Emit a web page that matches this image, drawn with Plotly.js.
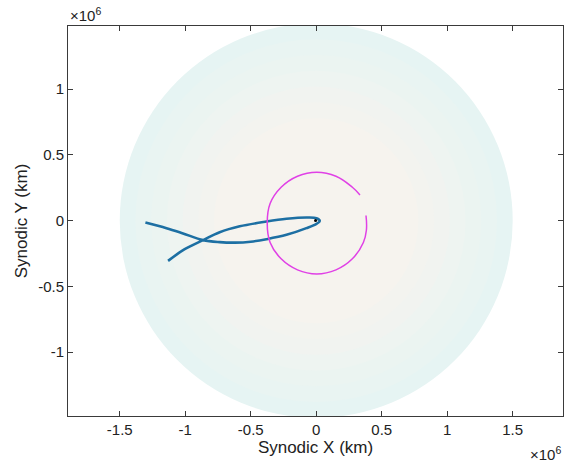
<!DOCTYPE html>
<html>
<head>
<meta charset="utf-8">
<script src="https://cdn.plot.ly/plotly-3.0.1.min.js"></script>
<style>html,body{margin:0;padding:0;background:#fff;}#chart{width:575px;height:462px;}</style>
</head>
<body>
<div id="chart"></div>
<script>
// Data (km)
const sphereRadius = 1.5e6;
const trajX = [-1.131e6, -1.004e6, -0.864e6, -0.737e6, -0.584e6, -0.380e6, -0.227e6, -0.075e6, 0.002e6, 0.027e6, 0.002e6, -0.075e6, -0.227e6, -0.380e6, -0.500e6, -0.620e6, -0.737e6, -0.864e6, -1.017e6, -1.143e6, -1.304e6];
const trajY = [-0.306e6, -0.217e6, -0.148e6, -0.088e6, -0.043e6, -0.007e6, 0.014e6, 0.024e6, 0.019e6, -0.002e6, -0.024e6, -0.057e6, -0.108e6, -0.141e6, -0.160e6, -0.167e6, -0.163e6, -0.148e6, -0.097e6, -0.057e6, -0.014e6];
const moonX = [0.334e6, 0.276e6, 0.151e6, 0.004e6, -0.143e6, -0.268e6, -0.352e6, -0.374e6, -0.352e6, -0.268e6, -0.143e6, 0.004e6, 0.151e6, 0.276e6, 0.360e6, 0.383e6, 0.380e6];
const moonY = [0.196e6, 0.254e6, 0.338e6, 0.369e6, 0.338e6, 0.254e6, 0.130e6, -0.018e6, -0.166e6, -0.290e6, -0.374e6, -0.405e6, -0.374e6, -0.290e6, -0.166e6, -0.072e6, 0.039e6];
const originX = [-0.005e6];
const originY = [0.002e6];
const xTicks = [-1.5e6, -1e6, -0.5e6, 0, 0.5e6, 1e6, 1.5e6];
const xTickText = ['-1.5', '-1', '-0.5', '0', '0.5', '1', '1.5'];
const yTicks = [-1e6, -0.5e6, 0, 0.5e6, 1e6];
const yTickText = ['-1', '-0.5', '0', '0.5', '1'];

// sphere shading: concentric fills from edge colour to centre colour
const ringFracs = [1.0, 0.92, 0.84, 0.76, 0.68, 0.6, 0.52];
const edgeCol = [230, 244, 243], centerCol = [246, 243, 238];
const shapes = ringFracs.map((f, i) => {
  const t = i / (ringFracs.length - 1);
  const c = edgeCol.map((v, k) => Math.round(v + (centerCol[k] - v) * t));
  const r = sphereRadius * f;
  return {type: 'circle', xref: 'x', yref: 'y', x0: -r, x1: r, y0: -r, y1: r,
          fillcolor: 'rgb(' + c.join(',') + ')', line: {width: 0}, layer: 'below'};
});

const traces = [
  {x: trajX, y: trajY, mode: 'lines', line: {color: '#1d6fa3', width: 2.6, shape: 'spline', smoothing: 1.0}, hoverinfo: 'skip'},
  {x: moonX, y: moonY, mode: 'lines', line: {color: '#e040e6', width: 1.5, shape: 'spline', smoothing: 1.2}, hoverinfo: 'skip'},
  {x: originX, y: originY, mode: 'markers', marker: {color: '#000', size: 3}, hoverinfo: 'skip'}
];

const axisCommon = {
  showgrid: false, zeroline: false, showline: true, linecolor: '#3a3a3a', linewidth: 1,
  mirror: 'ticks', ticks: 'inside', ticklen: 5, tickcolor: '#3a3a3a',
  tickfont: {family: 'Liberation Sans, Arial, sans-serif', size: 15, color: '#222'}
};

const layout = {
  width: 575, height: 462,
  margin: {l: 68, r: 12, t: 26, b: 46},
  paper_bgcolor: '#fff', plot_bgcolor: '#fff',
  showlegend: false,
  shapes: shapes,
  xaxis: Object.assign({}, axisCommon, {range: [-1.895e6, 1.884e6], tickvals: xTicks, ticktext: xTickText,
    title: {text: 'Synodic X (km)', font: {family: 'Liberation Sans, Arial, sans-serif', size: 17, color: '#222'}, standoff: 1}}),
  yaxis: Object.assign({}, axisCommon, {range: [-1.486e6, 1.481e6], tickvals: yTicks, ticktext: yTickText,
    title: {text: 'Synodic Y (km)', font: {family: 'Liberation Sans, Arial, sans-serif', size: 17, color: '#222'}, standoff: 6}}),
  annotations: [
    {xref: 'paper', yref: 'paper', x: 0, y: 1, xanchor: 'left', yanchor: 'bottom', showarrow: false,
     text: '×10<sup>6</sup>', font: {family: 'Liberation Sans, Arial, sans-serif', size: 15, color: '#222'}},
    {xref: 'paper', yref: 'paper', x: 1, y: 0, xanchor: 'right', yanchor: 'top', yshift: -26, showarrow: false,
     text: '×10<sup>6</sup>', font: {family: 'Liberation Sans, Arial, sans-serif', size: 15, color: '#222'}}
  ]
};

Plotly.newPlot('chart', traces, layout, {staticPlot: true, displayModeBar: false});
</script>
</body>
</html>
